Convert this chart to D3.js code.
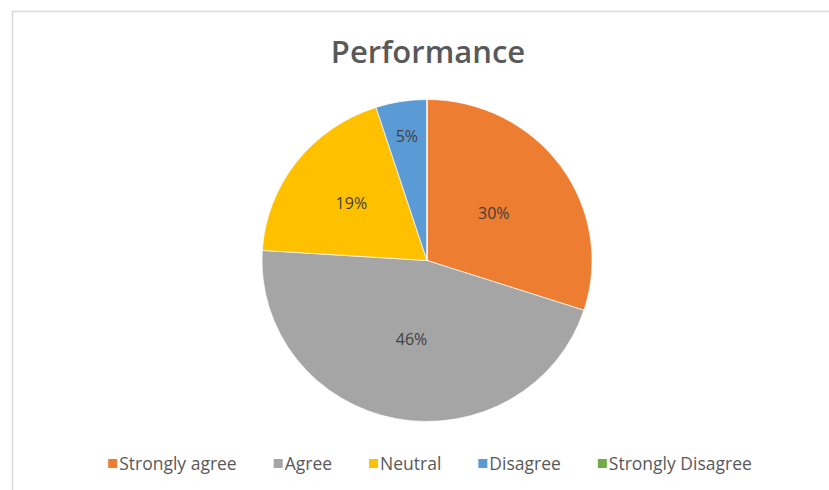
<!DOCTYPE html>
<html>
<head>
<meta charset="utf-8">
<script src="https://cdn.jsdelivr.net/npm/d3@7"></script>
<style>
  body { margin: 0; background: #fff; }
  svg { display: block; font-family: "Open Sans", sans-serif; }
</style>
</head>
<body>
<div id="vis"></div>
<script>
// chart data
const CATEGORIES = ["Strongly agree", "Agree", "Neutral", "Disagree", "Strongly Disagree"];
const VALUES = [30, 46, 19, 5, 0];
const LABELS = ["30%", "46%", "19%", "5%", ""];
const COLORS = ["#ED7D31", "#A5A5A5", "#FFC000", "#5B9BD5", "#70AD47"];
const TITLE = "Performance";

const FRAME_WIDTH = 829;
const FRAME_HEIGHT = 490;

// how far out each slice label sits (fraction of radius)
const LABEL_POS = [0.5, 0.5, 0.58, 0.78, 0.5];

const FRAME = d3.select("#vis")
  .append("svg")
    .attr("width", FRAME_WIDTH)
    .attr("height", FRAME_HEIGHT);

// chart border (right and bottom run off the picture)
FRAME.append("rect")
  .attr("x", 12.5).attr("y", 11.5)
  .attr("width", 840).attr("height", 500)
  .attr("fill", "none")
  .attr("stroke", "#d9d9d9")
  .attr("stroke-width", 1.5);

// title
FRAME.append("text")
  .attr("x", 428).attr("y", 63)
  .attr("text-anchor", "middle")
  .attr("font-size", 31)
  .attr("font-weight", 600)
  .attr("fill", "#595959")
  .text(TITLE);

// pie
const data = CATEGORIES.map((c, i) => ({ name: c, value: VALUES[i], label: LABELS[i], color: COLORS[i], pos: LABEL_POS[i] }));
const RADIUS = 161;
const pie = d3.pie().sort(null).value(d => d.value);
const arc = d3.arc().innerRadius(0).outerRadius(RADIUS);

const G = FRAME.append("g")
  .attr("transform", "translate(427,260.5) scale(1.025,1)");

const arcs = pie(data);

G.selectAll("path")
  .data(arcs)
  .enter()
  .append("path")
    .attr("d", arc)
    .attr("fill", d => d.data.color)
    .attr("stroke", "#fff")
    .attr("stroke-width", 0.7);

// slice labels
function labelPoint(d) {
  const r = RADIUS * d.data.pos;
  return d3.arc().innerRadius(r).outerRadius(r).centroid(d);
}
const LG = FRAME.append("g").attr("transform", "translate(427,260.5)");
LG.selectAll("text")
  .data(arcs.filter(d => d.data.value > 0))
  .enter()
  .append("text")
    .attr("x", d => labelPoint(d)[0] * 1.025)
    .attr("y", d => labelPoint(d)[1])
    .attr("dy", "0.35em")
    .attr("text-anchor", "middle")
    .attr("font-size", 16)
    .attr("fill", "#404040")
    .text(d => d.data.label);

// legend
const legend = FRAME.append("g");
const items = legend.selectAll("g")
  .data(data)
  .enter()
  .append("g");

items.append("rect")
  .attr("width", 9).attr("height", 9)
  .attr("y", -5)
  .attr("fill", d => d.color);

items.append("text")
  .attr("x", 11)
  .attr("dy", "0.35em")
  .attr("font-size", 17.5)
  .attr("fill", "#595959")
  .text(d => d.name);

// lay out legend entries side by side, centred
let xpos = 0;
const GAP = 37;
items.each(function () {
  const w = 11 + d3.select(this).select("text").node().getComputedTextLength();
  d3.select(this).attr("transform", "translate(" + xpos + ",0)");
  xpos += w + GAP;
});
const total = xpos - GAP;
legend.attr("transform", "translate(" + (430 - total / 2) + ",464)");
</script>
</body>
</html>
